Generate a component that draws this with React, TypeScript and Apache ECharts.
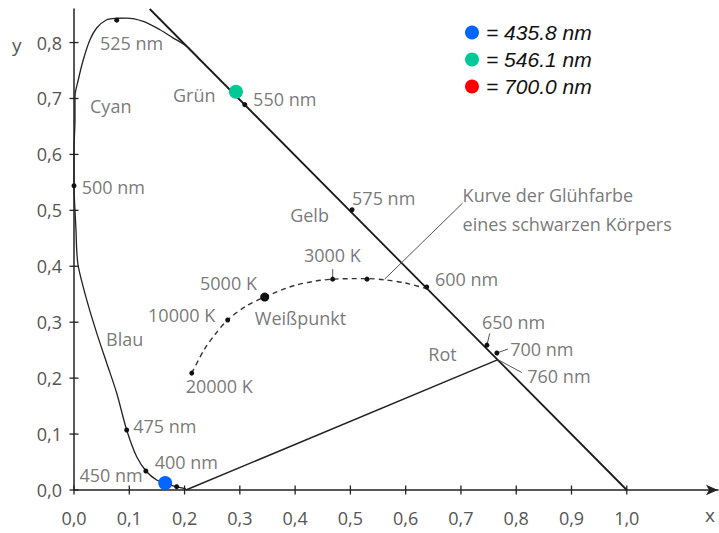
import { useEffect, useRef } from "react";
import * as echarts from "echarts";

const xTicks = [0, 0.1, 0.2, 0.3, 0.4, 0.5, 0.6, 0.7, 0.8, 0.9, 1.0];
const yTicks = [0, 0.1, 0.2, 0.3, 0.4, 0.5, 0.6, 0.7, 0.8];

// spectral locus, from violet end round to where it joins x+y=1
const spectralLocus: [number, number][] = [
  [0.2025, 0.0018], [0.1857, 0.0059], [0.1646, 0.012], [0.1495, 0.0179],
  [0.1315, 0.0327], [0.1134, 0.0596], [0.0953, 0.1073], [0.0772, 0.1735],
  [0.0591, 0.2272], [0.041, 0.2809], [0.023, 0.3399], [0.0078, 0.3995],
  [0.0049, 0.4293], [0.0036, 0.4651], [0.0018, 0.4991], [0.0, 0.5438],
  [0.0, 0.6082], [0.0018, 0.6619], [0.0018, 0.7036], [0.0078, 0.7335],
  [0.0168, 0.7692], [0.0289, 0.805], [0.041, 0.826], [0.0591, 0.8408],
  [0.0772, 0.8435], [0.0953, 0.8438], [0.1253, 0.8378], [0.1555, 0.8229],
  [0.1796, 0.808], [0.2038, 0.7935], [0.23, 0.767],
];
const unitLine: [number, number][] = [[0.137, 0.86], [1.0, 0.0]];
const purpleLine: [number, number][] = [[0.2025, 0.0], [0.767, 0.233]];
const locusMarkers: [number, number][] = [
  [0.0772, 0.84], [0.309, 0.689], [0.503, 0.501], [0.638, 0.363],
  [0.747, 0.259], [0.765, 0.245], [0.0, 0.544], [0.0953, 0.1073],
  [0.13, 0.034], [0.1857, 0.0059],
];
const planckCurve: [number, number][] = [
  [0.213, 0.209], [0.235, 0.25], [0.255, 0.278], [0.278, 0.304],
  [0.31, 0.328], [0.345, 0.345], [0.4, 0.366], [0.468, 0.377],
  [0.53, 0.378], [0.56, 0.376], [0.6, 0.37], [0.638, 0.36],
];
const planckMarkers: [number, number][] = [
  [0.213, 0.209], [0.278, 0.304], [0.468, 0.377], [0.53, 0.377],
];
const whitePoint: [number, number][] = [[0.345, 0.345]];
const leaderLines: [number, number][][] = [
  [[0.562, 0.377], [0.703, 0.513]],
  [[0.468, 0.38], [0.468, 0.395]],
  [[0.747, 0.259], [0.752, 0.28]],
  [[0.765, 0.245], [0.785, 0.252]],
  [[0.767, 0.233], [0.81, 0.21]],
];
const primaryBlue: [number, number][] = [[0.165, 0.0125]];
const primaryGreen: [number, number][] = [[0.293, 0.712]];
const primaryRed: [number, number][] = [];

const annotationTexts = [
  "525 nm", "Cyan", "Grün", "550 nm", "500 nm", "575 nm", "Gelb",
  "Kurve der Glühfarbe", "eines schwarzen Körpers", "3000 K", "5000 K",
  "600 nm", "10000 K", "Weißpunkt", "650 nm", "Blau", "Rot", "700 nm",
  "760 nm", "20000 K", "475 nm", "400 nm", "450 nm",
];
const annotationAnchors: [number, number][] = [
  [0.047, 0.8], [0.029, 0.687], [0.179, 0.707], [0.324, 0.699], [0.014, 0.541],
  [0.503, 0.522], [0.391, 0.491], [0.703, 0.527], [0.703, 0.476], [0.416, 0.420],
  [0.228, 0.370], [0.653, 0.377], [0.134, 0.313], [0.327, 0.308], [0.738, 0.30],
  [0.058, 0.270], [0.641, 0.243], [0.789, 0.252], [0.820, 0.204], [0.202, 0.186],
  [0.107, 0.115], [0.146, 0.05], [0.01, 0.027],
];

const labelFont = "'Open Sans', 'DejaVu Sans', sans-serif";
const gray = "#555";
const fmt = (v: number) => v.toFixed(1).replace(".", ",");

export default function App() {
  const ref = useRef<HTMLDivElement>(null);
  useEffect(() => {
    if (!ref.current) return;
    const chart = echarts.init(ref.current, undefined, { renderer: "svg" });
    const lineSeries = (name: string, data: [number, number][], extra: any = {}) => ({
      type: "line",
      name,
      data,
      showSymbol: false,
      silent: true,
      clip: false,
      lineStyle: { color: "#222", width: 1.3 },
      z: 3,
      ...extra,
    });
    chart.setOption({
      animation: false,
      backgroundColor: "#fff",
      grid: { left: 74, right: 1, top: 9, bottom: 43 },
      xAxis: {
        type: "value",
        min: 0,
        max: 1.165,
        interval: 0.1,
        splitLine: { show: false },
        axisTick: { show: false },
        axisLine: {
          onZero: false,
          lineStyle: { color: "#222", width: 1.5 },
          symbol: ["none", "arrow"],
          symbolSize: [8, 12],
        },
        axisLabel: {
          customValues: xTicks,
          formatter: fmt,
          color: gray,
          fontFamily: labelFont,
          fontSize: 18,
          margin: 19,
        },
      },
      yAxis: {
        type: "value",
        min: 0,
        max: 0.86,
        interval: 0.1,
        splitLine: { show: false },
        axisTick: { show: false },
        axisLine: { show: true, onZero: false, lineStyle: { color: "#222", width: 1.5 } },
        axisLabel: {
          customValues: yTicks,
          formatter: fmt,
          color: gray,
          fontFamily: labelFont,
          fontSize: 18,
          margin: 12,
        },
      },
      legend: {
        orient: "vertical",
        left: 460,
        top: 17,
        itemGap: 6,
        itemWidth: 14,
        itemHeight: 14,
        icon: "circle",
        data: ["= 435.8 nm", "= 546.1 nm", "= 700.0 nm"],
        selectedMode: false,
        textStyle: {
          fontFamily: "'Liberation Sans', Arial, sans-serif",
          fontStyle: "italic",
          fontSize: 21,
          color: "#111",
          padding: [0, 0, 0, 2],
        },
      },
      graphic: [
        { type: "text", left: 12, top: 35, style: { text: "y", fontSize: 19, fill: gray, fontFamily: labelFont } },
        { type: "text", left: 705, top: 505, style: { text: "x", fontSize: 19, fill: gray, fontFamily: labelFont } },
      ],
      series: [
        lineSeries("unit", unitLine, { lineStyle: { color: "#1a1a1a", width: 1.8 } }),
        lineSeries("locus", spectralLocus, { smooth: 0.3 }),
        lineSeries("purple", purpleLine, { lineStyle: { color: "#222", width: 1.5 } }),
        lineSeries("planck", planckCurve, {
          smooth: 0.3,
          lineStyle: { color: "#333", width: 1.4, type: [5, 4] },
        }),
        ...leaderLines.map((d, i) =>
          lineSeries("leader" + i, d, { lineStyle: { color: "#555", width: 1 } })
        ),
        {
          type: "scatter",
          name: "xticks",
          data: xTicks.map((v) => [v, 0]),
          symbol: "rect",
          symbolSize: [1.3, 9],
          itemStyle: { color: "#222", opacity: 1 },
          silent: true,
          clip: false,
          z: 4,
        },
        {
          type: "scatter",
          name: "yticks",
          data: yTicks.map((v) => [0, v]),
          symbol: "rect",
          symbolSize: [9, 1.3],
          itemStyle: { color: "#222", opacity: 1 },
          silent: true,
          clip: false,
          z: 4,
        },
        {
          type: "scatter",
          name: "markers",
          data: [...locusMarkers, ...planckMarkers],
          symbol: "circle",
          symbolSize: 5,
          itemStyle: { color: "#111", opacity: 1 },
          silent: true,
          clip: false,
          z: 5,
        },
        {
          type: "scatter",
          name: "white",
          data: whitePoint,
          symbol: "circle",
          symbolSize: 9,
          itemStyle: { color: "#111", opacity: 1 },
          silent: true,
          z: 5,
        },
        {
          type: "scatter",
          name: "annotations",
          data: annotationAnchors.map((p, i) => ({ value: p, name: annotationTexts[i] })),
          symbolSize: 0,
          silent: true,
          clip: false,
          z: 6,
          label: {
            show: true,
            position: "right",
            distance: 0,
            formatter: "{b}",
            color: gray,
            fontFamily: labelFont,
            fontSize: 18,
          },
        },
        {
          type: "scatter",
          name: "= 435.8 nm",
          data: primaryBlue,
          symbolSize: 14,
          itemStyle: { color: "#0066ff", opacity: 1 },
          z: 8,
        },
        {
          type: "scatter",
          name: "= 546.1 nm",
          data: primaryGreen,
          symbolSize: 14,
          itemStyle: { color: "#00c896", opacity: 1 },
          z: 8,
        },
        {
          type: "scatter",
          name: "= 700.0 nm",
          data: primaryRed,
          symbolSize: 14,
          itemStyle: { color: "#ff0000", opacity: 1 },
          z: 8,
        },
      ],
    });
    return () => chart.dispose();
  }, []);
  return (
    <div
      ref={ref}
      style={{ position: "absolute", left: 0, top: 0, width: 719, height: 533 }}
    />
  );
}
